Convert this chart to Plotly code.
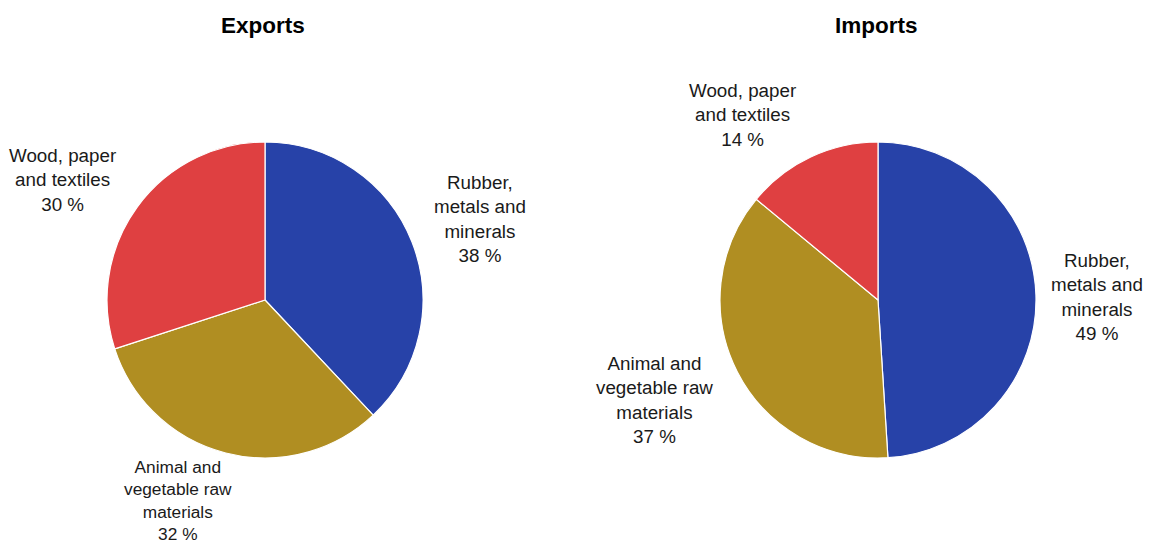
import plotly.graph_objects as go

categories = ["Rubber, metals and minerals", "Animal and vegetable raw materials", "Wood, paper and textiles"]
label_lines = ["Rubber,<br>metals and<br>minerals", "Animal and<br>vegetable raw<br>materials", "Wood, paper<br>and textiles"]
exports = [38, 32, 30]
imports = [49, 37, 14]
colors = ["#2742A8", "#B08E22", "#DF4041"]
titles = ["Exports", "Imports"]

W, H = 1152, 548
R = 158
centers = [(265, 300), (878, 300)]
# label anchor positions (pixels) and font sizes for each pie and slice
label_pos = [
    [(480, 219), (178, 500), (62, 180)],
    [(1097, 297), (654, 400), (742, 115)],
]
label_size = [
    [18.8, 17.3, 18.8],
    [18.8, 18.8, 18.8],
]

fig = go.Figure()
annotations = []
for k, vals in enumerate([exports, imports]):
    cx, cy = centers[k]
    fig.add_trace(go.Pie(
        labels=categories, values=vals, sort=False, direction="clockwise", rotation=0,
        marker=dict(colors=colors, line=dict(color="white", width=1.2)),
        textinfo="none", hoverinfo="label+percent", showlegend=False,
        domain=dict(x=[(cx - R) / W, (cx + R) / W], y=[1 - (cy + R) / H, 1 - (cy - R) / H]),
    ))
    annotations.append(dict(
        text="<b>%s</b>" % titles[k], x=(cx - 2) / W, y=1 - 25 / H, xref="paper", yref="paper",
        showarrow=False, font=dict(size=22.5, color="black", family="Liberation Sans, Arial"),
        xanchor="center", yanchor="middle"))
    for i, v in enumerate(vals):
        lx, ly = label_pos[k][i]
        annotations.append(dict(
            text="%s<br>%d %%" % (label_lines[i], v), x=lx / W, y=1 - ly / H,
            xref="paper", yref="paper", showarrow=False, align="center",
            xanchor="center", yanchor="middle",
            font=dict(size=label_size[k][i], color="#1a1a1a", family="Liberation Sans, Arial")))

fig.update_layout(
    width=W, height=H, margin=dict(l=0, r=0, t=0, b=0),
    paper_bgcolor="white", plot_bgcolor="white", annotations=annotations,
)
fig.write_html("out.html")
